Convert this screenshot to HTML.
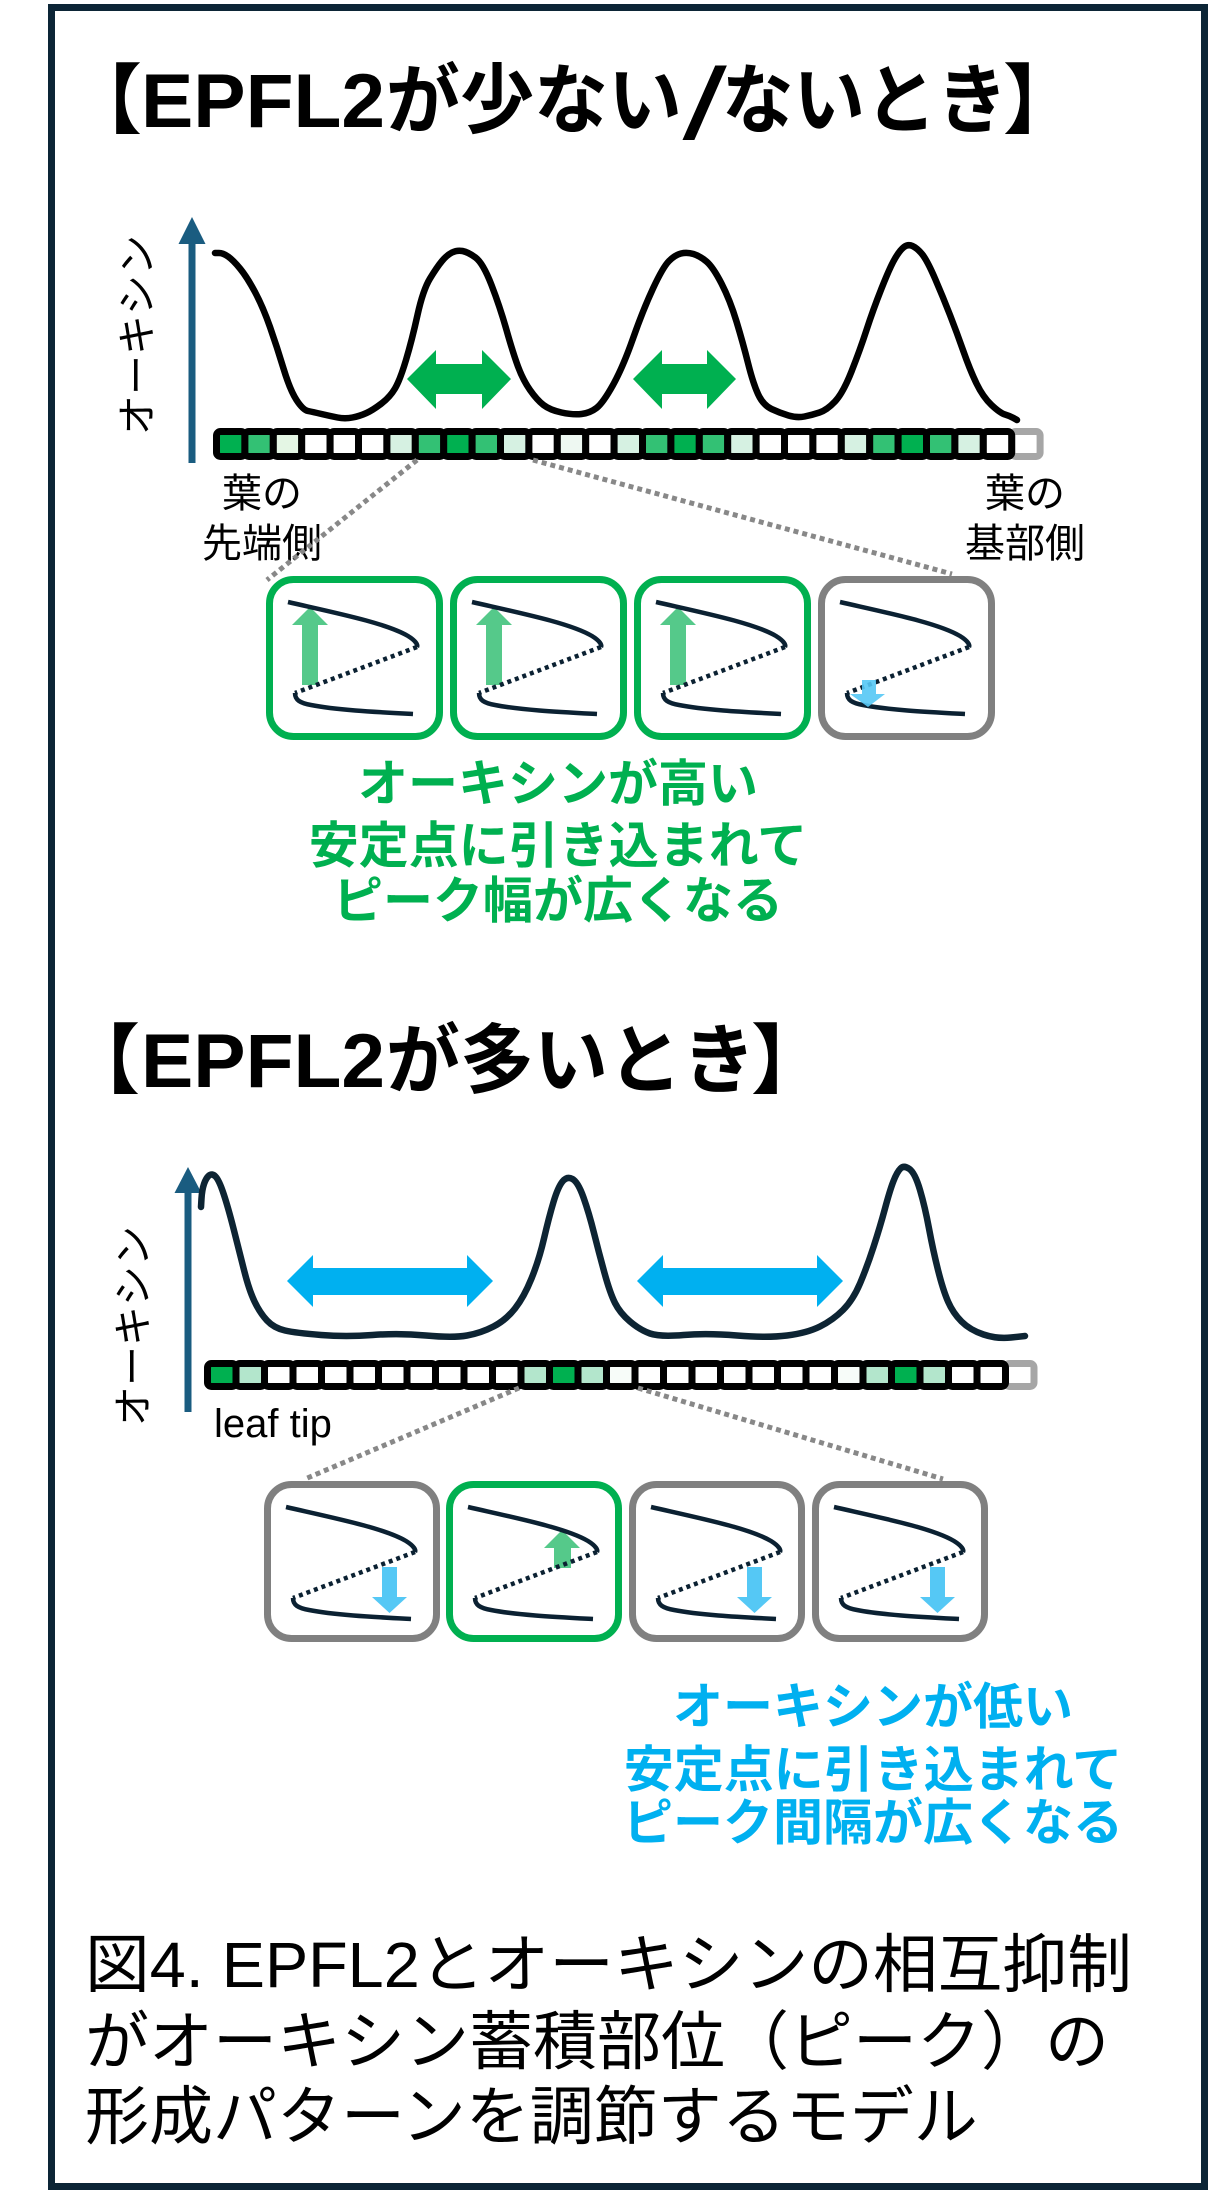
<!DOCTYPE html>
<html><head><meta charset="utf-8">
<style>
html,body{margin:0;padding:0;background:#fff;}
svg{display:block;}
text{font-family:"Liberation Sans","Noto Sans CJK JP",sans-serif;}
</style></head><body>
<svg width="1219" height="2195" viewBox="0 0 1219 2195" xmlns="http://www.w3.org/2000/svg">
<rect x="0" y="0" width="1219" height="2195" fill="#fff"/>
<rect x="51.5" y="7.5" width="1153" height="2179" fill="none" stroke="#0c2536" stroke-width="7"/>

<!-- ===== Title 1 ===== -->
<g font-weight="700" font-size="76" fill="#000">
<text x="66" y="127">【</text>
<text x="141" y="127" textLength="244" lengthAdjust="spacingAndGlyphs">EPFL2</text>
<text x="386" y="127" textLength="296" lengthAdjust="spacingAndGlyphs">が少ない</text>
<text transform="translate(682,138) skewX(-14)" x="0" y="0" font-size="100">/</text>
<text x="722" y="127" textLength="286" lengthAdjust="spacingAndGlyphs">ないとき</text>
<text x="1003" y="127">】</text>
</g>

<!-- axis top -->
<line x1="192" y1="240" x2="192" y2="463" stroke="#1a5c80" stroke-width="7"/>
<polygon points="192,217 178.5,244 205.5,244" fill="#1a5c80"/>
<text transform="translate(151,335) rotate(-90)" text-anchor="middle" font-size="40" fill="#000">オーキシン</text>

<!-- top curve -->
<path fill="none" stroke="#000" stroke-width="6.5" stroke-linejoin="round" stroke-linecap="round" d="M215,253 L219,253 Q223,253 228,256.5 Q233,260 240,268.5 Q247,277 255,292 Q263,307 270,327 Q277,347 283.5,368.5 Q290,390 296.5,400 Q303,410 308,411 Q313,412 321.5,414 Q330,416 337.5,417.5 Q345,419 352.5,417.5 Q360,416 366.5,413 Q373,410 381.5,403.5 Q390,397 395,388.5 Q400,380 406,360 Q412,340 417.5,315 Q423,290 430,278.5 Q437,267 442,261 Q447,255 452,252.5 Q457,250 462.5,251 Q468,252 475.5,257.5 Q483,263 491.5,285 Q500,307 506.5,330 Q513,353 518,366.5 Q523,380 530,390 Q537,400 543.5,405 Q550,410 561.5,412.5 Q573,415 581.5,414 Q590,413 596.5,408 Q603,403 613,385 Q623,367 633,338.5 Q643,310 653,288.5 Q663,267 669,261 Q675,255 681,253.5 Q687,252 693.5,254 Q700,256 706.5,261.5 Q713,267 721.5,283.5 Q730,300 736.5,321.5 Q743,343 748,363 Q753,383 758,394 Q763,405 771.5,409 Q780,413 788.5,415.5 Q797,418 804.5,416.5 Q812,415 819.5,412.5 Q827,410 835,401.5 Q843,393 851.5,371.5 Q860,350 866.5,330 Q873,310 881.5,288.5 Q890,267 895,258.5 Q900,250 904,247 Q908,244 912.5,246 Q917,248 922,254 Q927,260 935,278.5 Q943,297 950,315 Q957,333 963.5,351.5 Q970,370 976.5,383.5 Q983,397 991.5,405 Q1000,413 1005,414.5 Q1010,416 1013.5,418 L1017,420"/>

<!-- green double arrows -->
<polygon points="407,379 436,350 436,364 482,364 482,350 511,379 482,409 482,394 436,394 436,409" fill="#00b050"/>
<polygon points="633,379 662,350 662,364 707,364 707,350 736,379 707,409 707,394 662,394 662,409" fill="#00b050"/>

<!-- top strip -->
<g stroke-width="7">
<rect x="1011.7" y="431.5" width="28.4" height="25" rx="4" fill="#fff" stroke="#a6a6a6"/>
<g stroke="#000">
<rect x="216.5" y="431.5" width="28.4" height="25" rx="4" fill="#00b050"/>
<rect x="244.9" y="431.5" width="28.4" height="25" rx="4" fill="#33c174"/>
<rect x="273.3" y="431.5" width="28.4" height="25" rx="4" fill="#e4f6e4"/>
<rect x="301.7" y="431.5" width="28.4" height="25" rx="4" fill="#fff"/>
<rect x="330.1" y="431.5" width="28.4" height="25" rx="4" fill="#fff"/>
<rect x="358.5" y="431.5" width="28.4" height="25" rx="4" fill="#fff"/>
<rect x="386.9" y="431.5" width="28.4" height="25" rx="4" fill="#d6f1e2"/>
<rect x="415.3" y="431.5" width="28.4" height="25" rx="4" fill="#33c174"/>
<rect x="443.7" y="431.5" width="28.4" height="25" rx="4" fill="#00b050"/>
<rect x="472.1" y="431.5" width="28.4" height="25" rx="4" fill="#33c174"/>
<rect x="500.5" y="431.5" width="28.4" height="25" rx="4" fill="#d6f1e2"/>
<rect x="528.9" y="431.5" width="28.4" height="25" rx="4" fill="#fff"/>
<rect x="557.3" y="431.5" width="28.4" height="25" rx="4" fill="#eef8f2"/>
<rect x="585.7" y="431.5" width="28.4" height="25" rx="4" fill="#fff"/>
<rect x="614.1" y="431.5" width="28.4" height="25" rx="4" fill="#d6f1e2"/>
<rect x="642.5" y="431.5" width="28.4" height="25" rx="4" fill="#33c174"/>
<rect x="670.9" y="431.5" width="28.4" height="25" rx="4" fill="#00b050"/>
<rect x="699.3" y="431.5" width="28.4" height="25" rx="4" fill="#33c174"/>
<rect x="727.7" y="431.5" width="28.4" height="25" rx="4" fill="#d6f1e2"/>
<rect x="756.1" y="431.5" width="28.4" height="25" rx="4" fill="#fff"/>
<rect x="784.5" y="431.5" width="28.4" height="25" rx="4" fill="#fff"/>
<rect x="812.9" y="431.5" width="28.4" height="25" rx="4" fill="#fff"/>
<rect x="841.3" y="431.5" width="28.4" height="25" rx="4" fill="#d6f1e2"/>
<rect x="869.7" y="431.5" width="28.4" height="25" rx="4" fill="#33c174"/>
<rect x="898.1" y="431.5" width="28.4" height="25" rx="4" fill="#00b050"/>
<rect x="926.5" y="431.5" width="28.4" height="25" rx="4" fill="#33c174"/>
<rect x="954.9" y="431.5" width="28.4" height="25" rx="4" fill="#d6f1e2"/>
<rect x="983.3" y="431.5" width="28.4" height="25" rx="4" fill="#fff"/>
</g></g>

<!-- labels top -->
<g font-size="40" fill="#000" text-anchor="middle">
<text x="262" y="507">葉の</text>
<text x="262" y="557">先端側</text>
<text x="1025" y="507">葉の</text>
<text x="1025" y="557">基部側</text>
</g>

<!-- dotted connectors top -->
<g stroke="#888" stroke-width="5" stroke-dasharray="5 4" fill="none">
<line x1="417" y1="460" x2="267" y2="580"/>
<line x1="533" y1="460" x2="952" y2="574"/>
</g>

<!-- top boxes -->
<g transform="translate(266,576)">
<polygon points="44,31 26,49 36,49 36,109 52,109 52,49 62,49" fill="#55c98a"/>
<rect x="3.5" y="3.5" width="170" height="157" rx="24" fill="none" stroke="#00b050" stroke-width="7"/>
<path d="M22,26 C70,37 120,47 142,60 C150,65 152,69 151,71" stroke="#0b2132" stroke-width="4.5" fill="none"/>
<path d="M151,71 L29,117" stroke="#0b2132" stroke-width="4.5" stroke-dasharray="4 4" fill="none"/>
<path d="M29,117 C29,124 34,127 45,129 C70,134 110,136 147,138" stroke="#0b2132" stroke-width="4.5" fill="none"/>
</g>
<g transform="translate(450,576)">
<polygon points="44,31 26,49 36,49 36,109 52,109 52,49 62,49" fill="#55c98a"/>
<rect x="3.5" y="3.5" width="170" height="157" rx="24" fill="none" stroke="#00b050" stroke-width="7"/>
<path d="M22,26 C70,37 120,47 142,60 C150,65 152,69 151,71" stroke="#0b2132" stroke-width="4.5" fill="none"/>
<path d="M151,71 L29,117" stroke="#0b2132" stroke-width="4.5" stroke-dasharray="4 4" fill="none"/>
<path d="M29,117 C29,124 34,127 45,129 C70,134 110,136 147,138" stroke="#0b2132" stroke-width="4.5" fill="none"/>
</g>
<g transform="translate(634,576)">
<polygon points="44,31 26,49 36,49 36,109 52,109 52,49 62,49" fill="#55c98a"/>
<rect x="3.5" y="3.5" width="170" height="157" rx="24" fill="none" stroke="#00b050" stroke-width="7"/>
<path d="M22,26 C70,37 120,47 142,60 C150,65 152,69 151,71" stroke="#0b2132" stroke-width="4.5" fill="none"/>
<path d="M151,71 L29,117" stroke="#0b2132" stroke-width="4.5" stroke-dasharray="4 4" fill="none"/>
<path d="M29,117 C29,124 34,127 45,129 C70,134 110,136 147,138" stroke="#0b2132" stroke-width="4.5" fill="none"/>
</g>
<g transform="translate(818,576)">
<rect x="3.5" y="3.5" width="170" height="157" rx="24" fill="none" stroke="#808080" stroke-width="7"/>
<path d="M22,26 C70,37 120,47 142,60 C150,65 152,69 151,71" stroke="#0b2132" stroke-width="4.5" fill="none"/>
<path d="M151,71 L29,117" stroke="#0b2132" stroke-width="4.5" stroke-dasharray="4 4" fill="none"/>
<path d="M29,117 C29,124 34,127 45,129 C70,134 110,136 147,138" stroke="#0b2132" stroke-width="4.5" fill="none"/>
<polygon points="44,104 58,104 58,118 67,118 50,131 32,118 44,118" fill="#55c8f5" fill-opacity="0.9"/>
</g>

<!-- green text -->
<g font-weight="700" font-size="50" fill="#00b050" text-anchor="middle">
<text x="558" y="801">オーキシンが高い</text>
<text x="558" y="863">安定点に引き込まれて</text>
<text x="558" y="918">ピーク幅が広くなる</text>
</g>

<!-- ===== Title 2 ===== -->
<g font-weight="700" font-size="76" fill="#000">
<text x="64" y="1087">【</text>
<text x="141" y="1087" textLength="244" lengthAdjust="spacingAndGlyphs">EPFL2</text>
<text x="386" y="1087" textLength="370" lengthAdjust="spacingAndGlyphs">が多いとき</text>
<text x="751" y="1087">】</text>
</g>

<!-- axis bottom -->
<line x1="188" y1="1190" x2="188" y2="1412" stroke="#1a5c80" stroke-width="7"/>
<polygon points="188,1167 174.5,1193 201.5,1193" fill="#1a5c80"/>
<text transform="translate(147,1326) rotate(-90)" text-anchor="middle" font-size="40" fill="#000">オーキシン</text>

<!-- bottom curve -->
<path fill="none" stroke="#0d2433" stroke-width="6.5" stroke-linejoin="round" stroke-linecap="round" d="M201,1207 L201.5,1198.5 Q202,1190 204,1184 Q206,1178 209,1175.5 Q212,1173 215.5,1176.5 Q219,1180 223.5,1193.5 Q228,1207 233.5,1228.5 Q239,1250 244,1270 Q249,1290 254.5,1301.5 Q260,1313 267,1320.5 Q274,1328 285,1330.5 Q296,1333 321,1335 Q346,1337 372.5,1335 Q399,1333 426,1335.5 Q453,1338 467,1335.5 Q481,1333 493.5,1326.5 Q506,1320 515,1308.5 Q524,1297 531.5,1278.5 Q539,1260 544,1238.5 Q549,1217 553.5,1202 Q558,1187 562.5,1181.5 Q567,1176 572.5,1179 Q578,1182 583.5,1197.5 Q589,1213 594,1233 Q599,1253 604.5,1273 Q610,1293 615,1303 Q620,1313 630,1321.5 Q640,1330 650,1333.5 Q660,1337 683.5,1335 Q707,1333 737,1335.5 Q767,1338 787,1335.5 Q807,1333 820,1326.5 Q833,1320 843,1310 Q853,1300 860,1283.5 Q867,1267 873.5,1247 Q880,1227 885,1208.5 Q890,1190 893.5,1181 Q897,1172 900.5,1168.5 Q904,1165 909.5,1169 Q915,1173 920,1190 Q925,1207 929,1228.5 Q933,1250 938,1270 Q943,1290 948,1301.5 Q953,1313 961.5,1321.5 Q970,1330 983.5,1334.5 Q997,1339 1011,1337.5 L1025,1336"/>

<!-- blue double arrows -->
<polygon points="287,1281 313,1255 313,1268 467,1268 467,1255 493,1281 467,1307 467,1295 313,1295 313,1307" fill="#00b0f0"/>
<polygon points="637,1281 663,1255 663,1268 817,1268 817,1255 843,1281 817,1307 817,1295 663,1295 663,1307" fill="#00b0f0"/>

<!-- bottom strip -->
<g stroke-width="7">
<rect x="1005.5" y="1363.5" width="28.5" height="23" rx="4" fill="#fff" stroke="#a6a6a6"/>
<g stroke="#000">
<rect x="207.5" y="1363.5" width="28.5" height="23" rx="4" fill="#00b050"/>
<rect x="236" y="1363.5" width="28.5" height="23" rx="4" fill="#b3e6cc"/>
<rect x="264.5" y="1363.5" width="28.5" height="23" rx="4" fill="#fff"/>
<rect x="293" y="1363.5" width="28.5" height="23" rx="4" fill="#fff"/>
<rect x="321.5" y="1363.5" width="28.5" height="23" rx="4" fill="#fff"/>
<rect x="350" y="1363.5" width="28.5" height="23" rx="4" fill="#fff"/>
<rect x="378.5" y="1363.5" width="28.5" height="23" rx="4" fill="#fff"/>
<rect x="407" y="1363.5" width="28.5" height="23" rx="4" fill="#fff"/>
<rect x="435.5" y="1363.5" width="28.5" height="23" rx="4" fill="#fff"/>
<rect x="464" y="1363.5" width="28.5" height="23" rx="4" fill="#fff"/>
<rect x="492.5" y="1363.5" width="28.5" height="23" rx="4" fill="#fff"/>
<rect x="521" y="1363.5" width="28.5" height="23" rx="4" fill="#b3e6cc"/>
<rect x="549.5" y="1363.5" width="28.5" height="23" rx="4" fill="#00b050"/>
<rect x="578" y="1363.5" width="28.5" height="23" rx="4" fill="#b3e6cc"/>
<rect x="606.5" y="1363.5" width="28.5" height="23" rx="4" fill="#f7fcf9"/>
<rect x="635" y="1363.5" width="28.5" height="23" rx="4" fill="#fff"/>
<rect x="663.5" y="1363.5" width="28.5" height="23" rx="4" fill="#fff"/>
<rect x="692" y="1363.5" width="28.5" height="23" rx="4" fill="#fff"/>
<rect x="720.5" y="1363.5" width="28.5" height="23" rx="4" fill="#fff"/>
<rect x="749" y="1363.5" width="28.5" height="23" rx="4" fill="#fff"/>
<rect x="777.5" y="1363.5" width="28.5" height="23" rx="4" fill="#fff"/>
<rect x="806" y="1363.5" width="28.5" height="23" rx="4" fill="#fff"/>
<rect x="834.5" y="1363.5" width="28.5" height="23" rx="4" fill="#f7fcf9"/>
<rect x="863" y="1363.5" width="28.5" height="23" rx="4" fill="#b3e6cc"/>
<rect x="891.5" y="1363.5" width="28.5" height="23" rx="4" fill="#00b050"/>
<rect x="920" y="1363.5" width="28.5" height="23" rx="4" fill="#b3e6cc"/>
<rect x="948.5" y="1363.5" width="28.5" height="23" rx="4" fill="#fff"/>
<rect x="977" y="1363.5" width="28.5" height="23" rx="4" fill="#fff"/>
</g></g>

<text x="214" y="1437" font-size="40" fill="#000">leaf tip</text>

<!-- dotted connectors bottom -->
<g stroke="#888" stroke-width="5" stroke-dasharray="5 4" fill="none">
<line x1="519" y1="1388" x2="305" y2="1479"/>
<line x1="638" y1="1388" x2="943" y2="1479"/>
</g>

<!-- bottom boxes -->
<g transform="translate(264,1481)">
<polygon points="118,86 133,86 133,116 143,116 125.5,132 108,116 118,116" fill="#55c8f5"/>
<rect x="3.5" y="3.5" width="169" height="154" rx="24" fill="none" stroke="#808080" stroke-width="7"/>
<path d="M22,26 C70,37 120,47 142,60 C150,65 152,69 151,71" stroke="#0b2132" stroke-width="4.5" fill="none"/>
<path d="M151,71 L29,117" stroke="#0b2132" stroke-width="4.5" stroke-dasharray="4 4" fill="none"/>
<path d="M29,117 C29,124 34,127 45,129 C70,134 110,136 147,138" stroke="#0b2132" stroke-width="4.5" fill="none"/>
</g>
<g transform="translate(446,1481)">
<polygon points="116,49 98,67 108,67 108,87 125,87 125,67 134,67" fill="#55c98a"/>
<rect x="3.5" y="3.5" width="169" height="154" rx="24" fill="none" stroke="#00b050" stroke-width="7"/>
<path d="M22,26 C70,37 120,47 142,60 C150,65 152,69 151,71" stroke="#0b2132" stroke-width="4.5" fill="none"/>
<path d="M151,71 L29,117" stroke="#0b2132" stroke-width="4.5" stroke-dasharray="4 4" fill="none"/>
<path d="M29,117 C29,124 34,127 45,129 C70,134 110,136 147,138" stroke="#0b2132" stroke-width="4.5" fill="none"/>
</g>
<g transform="translate(629,1481)">
<polygon points="118,86 133,86 133,116 143,116 125.5,132 108,116 118,116" fill="#55c8f5"/>
<rect x="3.5" y="3.5" width="169" height="154" rx="24" fill="none" stroke="#808080" stroke-width="7"/>
<path d="M22,26 C70,37 120,47 142,60 C150,65 152,69 151,71" stroke="#0b2132" stroke-width="4.5" fill="none"/>
<path d="M151,71 L29,117" stroke="#0b2132" stroke-width="4.5" stroke-dasharray="4 4" fill="none"/>
<path d="M29,117 C29,124 34,127 45,129 C70,134 110,136 147,138" stroke="#0b2132" stroke-width="4.5" fill="none"/>
</g>
<g transform="translate(812,1481)">
<polygon points="118,86 133,86 133,116 143,116 125.5,132 108,116 118,116" fill="#55c8f5"/>
<rect x="3.5" y="3.5" width="169" height="154" rx="24" fill="none" stroke="#808080" stroke-width="7"/>
<path d="M22,26 C70,37 120,47 142,60 C150,65 152,69 151,71" stroke="#0b2132" stroke-width="4.5" fill="none"/>
<path d="M151,71 L29,117" stroke="#0b2132" stroke-width="4.5" stroke-dasharray="4 4" fill="none"/>
<path d="M29,117 C29,124 34,127 45,129 C70,134 110,136 147,138" stroke="#0b2132" stroke-width="4.5" fill="none"/>
</g>

<!-- blue text -->
<g font-weight="700" font-size="50" fill="#00b0f0" text-anchor="middle">
<text x="873" y="1724">オーキシンが低い</text>
<text x="873" y="1787">安定点に引き込まれて</text>
<text x="873" y="1840">ピーク間隔が広くなる</text>
</g>

<!-- caption -->
<g font-size="64" fill="#000">
<text x="85" y="1987" textLength="1047" lengthAdjust="spacingAndGlyphs">図4. EPFL2とオーキシンの相互抑制</text>
<text x="85" y="2064">がオーキシン蓄積部位（ピーク）の</text>
<text x="85" y="2139">形成パターンを調節するモデル</text>
</g>
</svg>
</body></html>
